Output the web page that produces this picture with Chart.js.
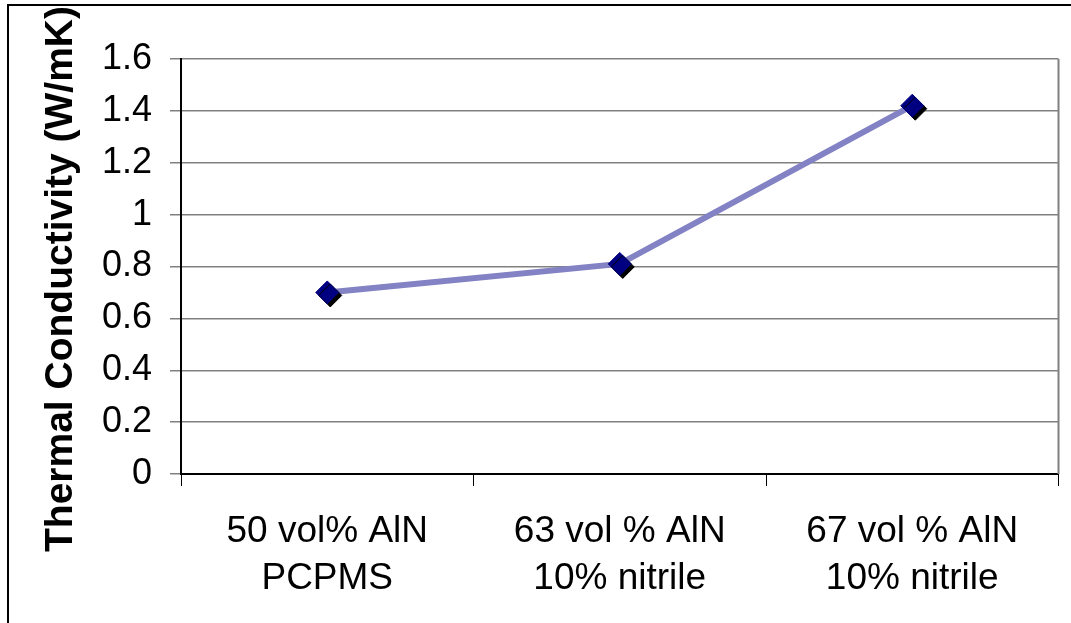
<!DOCTYPE html>
<html>
<head>
<meta charset="utf-8">
<script src="https://cdn.jsdelivr.net/npm/chart.js@4/dist/chart.umd.min.js"></script>
<style>
  html, body { margin: 0; padding: 0; background: #fff; }
  #wrap { width: 1071px; height: 623px; position: relative; }
</style>
</head>
<body>
<div id="wrap"><canvas id="c" width="1071" height="623"></canvas></div>
<script>
// Samples (two-line category labels)
const categories = [
  ['50 vol% AlN', 'PCPMS'],
  ['63 vol % AlN', '10% nitrile'],
  ['67 vol % AlN', '10% nitrile']
];
// Thermal conductivity, W/mK
const conductivity = [0.70, 0.81, 1.42];
const yTicks = [0, 0.2, 0.4, 0.6, 0.8, 1.0, 1.2, 1.4, 1.6];
const yTitle = 'Thermal Conductivity (W/mK)';

const FONT = "'Liberation Sans', Arial, Helvetica, sans-serif";

// Frame around the chart, plot-area right border and the rotated axis title
const decorations = {
  id: 'decorations',
  beforeDraw(chart) {
    const ctx = chart.ctx;
    ctx.save();
    ctx.fillStyle = '#fff';
    ctx.fillRect(0, 0, chart.width, chart.height);
    ctx.strokeStyle = '#000';
    ctx.lineWidth = 2;
    ctx.beginPath();
    ctx.moveTo(8, chart.height);
    ctx.lineTo(8, 5);
    ctx.lineTo(chart.width, 5);
    ctx.stroke();
    ctx.restore();
  },
  afterDraw(chart) {
    const ctx = chart.ctx;
    const a = chart.chartArea;
    ctx.save();
    ctx.strokeStyle = '#808080';
    ctx.lineWidth = 2;
    ctx.beginPath();
    ctx.moveTo(a.right, a.top);
    ctx.lineTo(a.right, a.bottom);
    ctx.stroke();

    ctx.translate(61, 279);
    ctx.rotate(-Math.PI / 2);
    ctx.fillStyle = '#000';
    ctx.font = 'bold 39px ' + FONT;
    ctx.textAlign = 'center';
    ctx.textBaseline = 'middle';
    ctx.fillText(yTitle, 0, 0);
    ctx.restore();
  }
};

// Hard black drop shadow under the diamond markers
const markerShadow = {
  id: 'markerShadow',
  beforeDatasetDraw(chart, args) {
    if (args.index !== 1) return;
    const ctx = chart.ctx;
    ctx.save();
    ctx.shadowColor = '#000';
    ctx.shadowOffsetX = 3;
    ctx.shadowOffsetY = 3;
    ctx.shadowBlur = 0;
  },
  afterDatasetDraw(chart, args) {
    if (args.index !== 1) return;
    chart.ctx.restore();
  }
};

new Chart(document.getElementById('c'), {
  type: 'line',
  data: {
    labels: categories,
    datasets: [
      {
        data: conductivity,
        borderColor: '#8282c4',
        borderWidth: 6,
        pointRadius: 0,
        pointHoverRadius: 0,
        tension: 0,
        order: 1
      },
      {
        data: conductivity,
        showLine: false,
        pointStyle: 'rectRot',
        pointRadius: 11.5,
        pointBorderWidth: 1,
        pointBackgroundColor: '#000080',
        pointBorderColor: '#000080',
        order: 0
      }
    ]
  },
  options: {
    responsive: false,
    animation: false,
    events: [],
    layout: { padding: { left: 0, top: 59, right: 9, bottom: 0 } },
    plugins: {
      legend: { display: false },
      tooltip: { enabled: false }
    },
    scales: {
      x: {
        type: 'category',
        offset: true,
        afterFit(scale) { scale.height = 623 - 474; },
        grid: {
          offset: true,
          drawOnChartArea: false,
          drawTicks: true,
          tickLength: 12,
          color: '#000',
          lineWidth: 1
        },
        border: { display: true, color: '#000', width: 2 },
        ticks: {
          color: '#000',
          padding: 23,
          maxRotation: 0,
          autoSkip: false,
          font: { family: FONT, size: 37, lineHeight: 1.25 }
        }
      },
      y: {
        min: 0,
        max: 1.6,
        afterFit(scale) { scale.width = 181; },
        afterBuildTicks(scale) {
          scale.ticks = yTicks.map(v => ({ value: v }));
        },
        grid: {
          color: '#808080',
          lineWidth: 1.5,
          drawTicks: true,
          tickLength: 11
        },
        border: { display: true, color: '#000', width: 2 },
        ticks: {
          color: '#000',
          padding: 18,
          font: { family: FONT, size: 36 },
          callback: v => String(Math.round(v * 10) / 10)
        }
      }
    }
  },
  plugins: [decorations, markerShadow]
});
</script>
</body>
</html>
